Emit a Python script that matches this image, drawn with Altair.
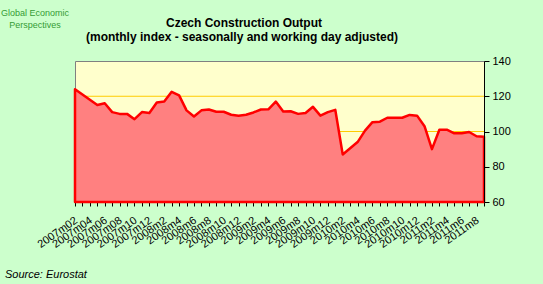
import altair as alt
import pandas as pd

months = [
    "2007m02", "2007m03", "2007m04", "2007m05", "2007m06", "2007m07", "2007m08",
    "2007m09", "2007m10", "2007m11", "2007m12",
    "2008m1", "2008m2", "2008m3", "2008m4", "2008m5", "2008m6", "2008m7", "2008m8",
    "2008m9", "2008m10", "2008m11", "2008m12",
    "2009m1", "2009m2", "2009m3", "2009m4", "2009m5", "2009m6", "2009m7", "2009m8",
    "2009m9", "2009m10", "2009m11", "2009m12",
    "2010m1", "2010m2", "2010m3", "2010m4", "2010m5", "2010m6", "2010m7", "2010m8",
    "2010m9", "2010m10", "2010m11", "2010m12",
    "2011m1", "2011m2", "2011m3", "2011m4", "2011m5", "2011m6", "2011m7", "2011m8",
    "2011m9",
]

values = [
    124, 121, 118, 115, 116, 111, 110, 110, 107, 111, 110.5,
    116.5, 117, 122.5, 120.5, 112, 108.5, 112, 112.5, 111.2, 111.2, 109.5, 109,
    109.5, 110.8, 112.5, 112.6, 117, 111.3, 111.5, 110, 110.5, 114, 109, 111,
    112.3, 87, 90.5, 94, 100.5, 105.3, 105.6, 107.8, 107.8, 107.8, 109.4, 109,
    103, 90, 101, 101, 99, 99, 99.7, 97.3, 97,
]

y_ticks = [60, 80, 100, 120, 140]
grid_values = [80, 100, 120]

title_lines = ["Czech Construction Output",
               "(monthly index - seasonally and working day adjusted)"]
logo_lines = ["Global Economic", "Perspectives"]
source_text = "Source: Eurostat"

df = pd.DataFrame({"idx": list(range(len(months))), "month": months, "value": values})

label_array = "[" + ",".join("'" + m + "'" for m in months) + "]"
label_expr = "datum.value % 2 == 0 ? " + label_array + "[datum.value] : ''"

x_enc = alt.X(
    "idx:Q",
    scale=alt.Scale(domain=[0, len(months) - 1], nice=False, zero=False),
    axis=alt.Axis(
        values=list(range(len(months))),
        labelExpr=label_expr,
        labelAngle=325,
        labelAlign="right",
        labelBaseline="middle",
        labelFont="Liberation Sans",
        labelFontSize=11,
        labelColor="#000000",
        labelOverlap=False,
        labelFlush=False,
        labelPadding=13,
        labelOffset=1,
        tickColor="#000000",
        tickSize=4,
        domain=False,
        grid=False,
        title=None,
    ),
)

y_scale = alt.Scale(domain=[60, 140], nice=False, zero=False)
y_axis = alt.Axis(
    orient="right",
    values=y_ticks,
    grid=False,
    domainColor="#000000",
    domainWidth=1,
    tickColor="#000000",
    tickSize=5,
    labelFont="Liberation Sans",
    labelFontSize=11,
    labelColor="#000000",
    labelPadding=3,
    title=None,
    zindex=1,
)

grid = alt.Chart(pd.DataFrame({"g": grid_values})).mark_rule(
    color="#FFCC00", strokeWidth=1
).encode(y=alt.Y("g:Q", scale=y_scale, axis=y_axis))

area = alt.Chart(df).mark_area(
    fill="#FF8080", stroke="#FF0000", strokeWidth=2.5, strokeJoin="round"
).encode(
    x=x_enc,
    y=alt.Y("value:Q", scale=y_scale, axis=y_axis),
    y2=alt.datum(60),
)

def text_layer(txt, x, y, size, weight="normal", style="normal", color="#000000",
               align="center", font="Liberation Sans"):
    return alt.Chart(pd.DataFrame({"t": [txt]})).mark_text(
        font=font, fontSize=size, fontWeight=weight, fontStyle=style,
        color=color, align=align, baseline="alphabetic",
    ).encode(text="t:N", x=alt.value(x), y=alt.value(y))

t1 = text_layer(title_lines[0], 169, -34, 12, weight="bold")
t2 = text_layer(title_lines[1], 167, -20, 12, weight="bold")
l1 = text_layer(logo_lines[0], -40, -45, 9, color="#359C35")
l2 = text_layer(logo_lines[1], -40, -33, 9, color="#359C35")
src = text_layer(source_text, -70, 217, 11, style="italic", align="left")

chart = alt.layer(grid, area, t1, t2, l1, l2, src).properties(
    width=409,
    height=141,
    autosize="none",
    padding={"left": 75, "top": 61, "right": 59, "bottom": 82},
    background="#CCFFCC",
).configure_view(
    fill="#FFFFCC", stroke="#808080", strokeWidth=1
)

chart.save("out.html", embed_options={"renderer": "svg", "actions": False})
